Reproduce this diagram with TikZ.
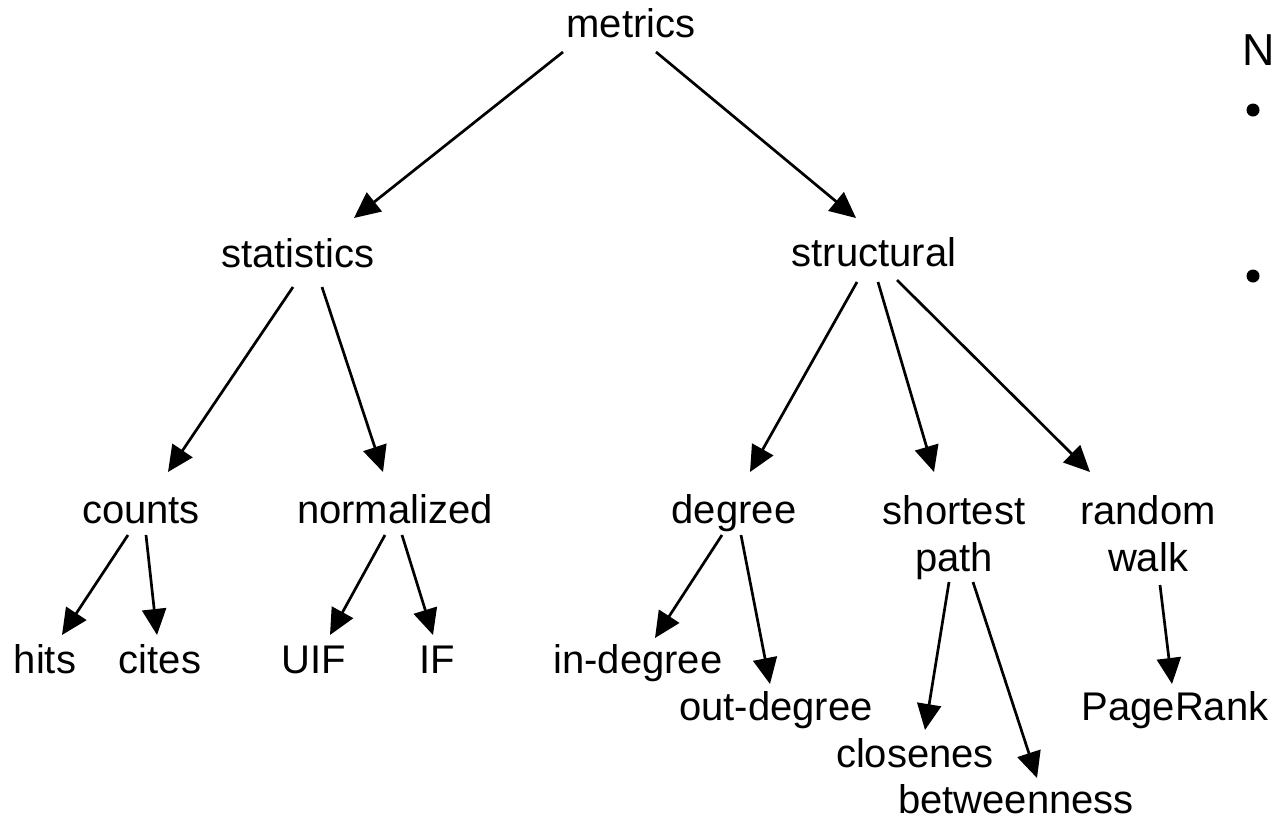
\documentclass[tikz,border=0pt]{standalone}
\usepackage{fontspec}
\setmainfont{Liberation Sans}
\usetikzlibrary{arrows.meta,calc}
\begin{document}
\begin{tikzpicture}[x=0.5pt,y=-0.5pt,
  lbl/.style={inner sep=0pt, font=\fontsize{20}{23.5}\selectfont, anchor=base},
  mlbl/.style={inner sep=0pt, font=\fontsize{20}{23.5}\selectfont, align=center, anchor=north},
  arr/.style={line width=1.35pt, -{Triangle[length=13pt,width=12pt]}},
  dot/.style={circle, fill=black, inner sep=0pt, minimum size=6.5pt}]
\useasboundingbox (0,0) rectangle (1275,820);
\clip (0,0) rectangle (1275,820);
\fill[white] (0,0) rectangle (1275,820);
% nodes
\node[lbl] (metrics) at (631,37) {metrics};
\node[lbl] (statistics) at (298,267) {statistics};
\node[lbl] (structural) at (874,266) {structural};
\node[lbl] (counts) at (141,523) {counts};
\node[lbl] (normalized) at (395,523) {normalized};
\node[lbl] (degree) at (734,523) {degree};
\node[mlbl] (sp) at (954,495) {shortest\\path};
\node[mlbl] (rw) at (1148,495) {random\\walk};
\node[lbl] (hits) at (45,673) {hits};
\node[lbl] (cites) at (160,673) {cites};
\node[lbl] (uif) at (314,673) {UIF};
\node[lbl] (if) at (437,673) {IF};
\node[lbl] (indeg) at (638,673) {in-degree};
\node[lbl] (outdeg) at (776,720) {out-degree};
\node[lbl] (clos) at (915,767) {closenes};
\node[lbl] (betw) at (1016,813) {betweenness};
\node[lbl] (pr) at (1175,720) {PageRank};
\node[inner sep=0pt, font=\fontsize{22.4}{26}\selectfont, anchor=base east] (N) at (1275,65) {N};
\node[dot] (b1) at (1253,110) {};
\node[dot] (b2) at (1253,276) {};
% connectors
\draw[arr] ($(metrics.base)+(-68,15)$) -- ($(statistics.base)+(56,-49)$);
\draw[arr] ($(metrics.base)+(25,15)$) -- ($(structural.base)+(-18,-48)$);
\draw[arr] ($(statistics.base)+(-5,20)$) -- ($(counts.base)+(27,-51)$);
\draw[arr] ($(statistics.base)+(24,20)$) -- ($(normalized.base)+(-12,-51)$);
\draw[arr] ($(structural.base)+(-17,16)$) -- ($(degree.base)+(16,-51)$);
\draw[arr] ($(structural.base)+(4,16)$) -- ($(sp.north)+(-20,-23)$);
\draw[arr] ($(structural.base)+(23,14)$) -- ($(rw.north)+(-58,-23)$);
\draw[arr] ($(counts.base)+(-13,12)$) -- ($(hits.base)+(17,-38)$);
\draw[arr] ($(counts.base)+(5,12)$) -- ($(cites.base)+(-3,-38)$);
\draw[arr] ($(normalized.base)+(-10,12)$) -- ($(uif.base)+(16,-38)$);
\draw[arr] ($(normalized.base)+(7,12)$) -- ($(if.base)+(-4,-38)$);
\draw[arr] ($(degree.base)+(-12,12)$) -- ($(indeg.base)+(17,-35)$);
\draw[arr] ($(degree.base)+(7,12)$) -- ($(outdeg.base)+(-6,-36)$);
\draw[arr] ($(sp.north)+(-5,87)$) -- ($(clos.base)+(10,-37)$);
\draw[arr] ($(sp.north)+(19,87)$) -- ($(betw.base)+(21,-35)$);
\draw[arr] ($(rw.north)+(12,90)$) -- ($(pr.base)+(-3,-36)$);
\end{tikzpicture}
\end{document}
